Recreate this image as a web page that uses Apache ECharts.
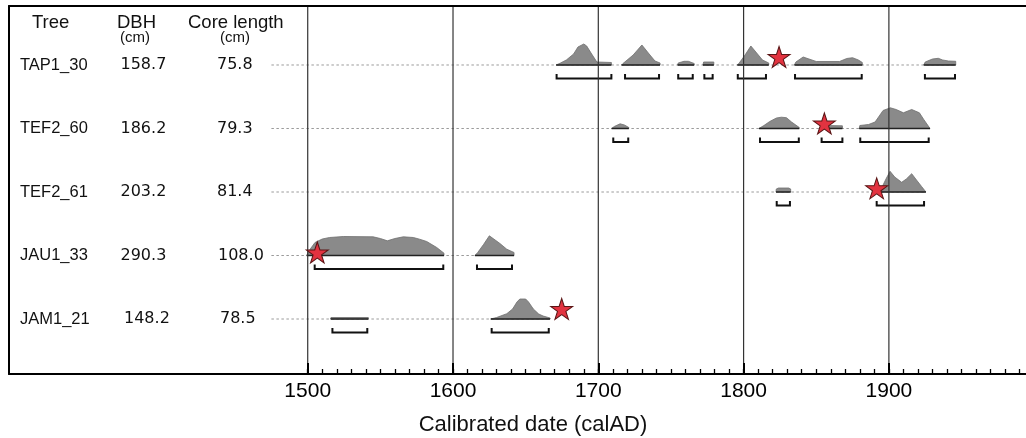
<!DOCTYPE html>
<html><head><meta charset="utf-8">
<script src="https://cdn.jsdelivr.net/npm/echarts@6/dist/echarts.min.js"></script>
<style>html,body{margin:0;padding:0;background:#fff;overflow:hidden}#c{width:1032px;height:438px}</style>
</head><body><div id="c"></div>
<script>
// ---------- data ----------
const trees = ['TAP1_30', 'TEF2_60', 'TEF2_61', 'JAU1_33', 'JAM1_21'];
const dbh = ['158.7', '186.2', '203.2', '290.3', '148.2'];
const coreLength = ['75.8', '79.3', '81.4', '108.0', '78.5'];
const rows = [5, 4, 3, 2, 1];
const yearTicks = [1500, 1600, 1700, 1800, 1900];
const minorTicks = [1500,1510,1520,1530,1540,1550,1560,1570,1580,1590,
  1600,1610,1620,1630,1640,1650,1660,1670,1680,1690,
  1700,1710,1720,1730,1740,1750,1760,1770,1780,1790,
  1800,1810,1820,1830,1840,1850,1860,1870,1880,1890,
  1900,1910,1920,1930,1940,1950,1960,1970,1980,1990];

// calibrated probability densities: [year, relative density]
const densTAP1_30 = [
  [[1671,0],[1674,2],[1678,5],[1683,11],[1686,18],[1690,21],[1692,19],[1695,12],[1699,3],[1709,2.5],[1709,0]],
  [[1716,0],[1717,1.5],[1724,10],[1730,20],[1735,11],[1739,4],[1742.5,2],[1742.5,0]],
  [[1754.6,0],[1755,2],[1759,3.7],[1762,3.7],[1766,1.5],[1766,0]],
  [[1772,0],[1772.5,3],[1779.5,3],[1779.5,0]],
  [[1795.7,0],[1797,2],[1801,10],[1805,19],[1809,12],[1813,5],[1817.3,2],[1817.3,0]],
  [[1835,0],[1836,3],[1841,8],[1845,6],[1850,3.5],[1866,3.5],[1871,6.5],[1875,7.3],[1879,5],[1881.7,2.5],[1881.7,0]],
  [[1924,0],[1925,3],[1930,6],[1934,6.7],[1937,5],[1941,4],[1946,3.7],[1946,0]]
];
const densTEF2_60 = [
  [[1709.2,0],[1711,2],[1715,4.7],[1718,3.5],[1721,1],[1721,0]],
  [[1810.6,0],[1814,3],[1818,7],[1822.6,10.5],[1826,11.3],[1829.5,10.8],[1833,6.5],[1838.3,1],[1838.3,0]],
  [[1854,0],[1854,3],[1868,2.7],[1868,0]],
  [[1879.6,0],[1880,3],[1886,4],[1890.5,6.5],[1896,18],[1901,20.7],[1905,19],[1910,15.7],[1915.7,19],[1921,15.7],[1924,9],[1928.3,0]]
];
const densTEF2_61 = [
  [[1822.3,0],[1822.5,3],[1824,4],[1831,4],[1832.4,3],[1832.4,0]],
  [[1893,0],[1895,4],[1898,13],[1900.8,20.7],[1904,15],[1908.8,9.7],[1912,13],[1915.7,18.3],[1919,12],[1922.5,5.5],[1925.5,0]]
];
const densJAU1_33 = [
  [[1499.3,0],[1501,5],[1505,13],[1510,16.5],[1515,18],[1524.5,19],[1545,18.7],[1550,17],[1554.8,14.7],[1560,17],[1565.8,18.7],[1572.7,18],[1577,16.3],[1581.9,14],[1588.8,8],[1593.8,2.3],[1593.8,0]],
  [[1615.1,0],[1617,3],[1621,11],[1625,19.7],[1629,15.5],[1632.3,12],[1637,6.3],[1642,3],[1642,0]]
];
const densJAM1_21 = [
  [[1515.8,0],[1516,1.5],[1541.7,1.5],[1541.7,0]],
  [[1626,0],[1630,1.5],[1637,5.3],[1641,10],[1644,17],[1646,20],[1650,20],[1652,17],[1655.3,10],[1659,5],[1662,3],[1666.8,1],[1666.8,0]]
];
const densities = [densTAP1_30, densTEF2_60, densTEF2_61, densJAU1_33, densJAM1_21];

// 95% ranges (brackets): [start, end]
const rangesTAP1_30 = [[1671.3,1709],[1718.4,1741.8],[1755,1765],[1773,1778.7],[1796,1815.4],[1835.4,1881.3],[1924.8,1945.5]];
const rangesTEF2_60 = [[1710.3,1720.6],[1811.3,1838],[1853.7,1868],[1880.3,1927.4]];
const rangesTEF2_61 = [[1822.8,1831.9],[1891.6,1924.2]];
const rangesJAU1_33 = [[1504.8,1593.3],[1616.5,1640.6]];
const rangesJAM1_21 = [[1517,1541],[1626.6,1665.9]];
const ranges = [rangesTAP1_30, rangesTEF2_60, rangesTEF2_61, rangesJAU1_33, rangesJAM1_21];

// star markers (pith date estimate): year, lift above baseline (density units)
const starYears = [1824.4, 1855.6, 1891.6, 1506.6, 1674.8];
const starLift = [8, 5, 3.7, 3, 10];

// dotted guide lines
const guideStart = 1475;
const guideEnd = [1946, 1929, 1925.5, 1642, 1667];

// ---------- build ----------
const DENS_TO_ROW = 1 / 63.5;
const densitySegments = [];
densities.forEach((segs, r) => segs.forEach(pts => densitySegments.push({ row: rows[r], pts })));
const densityData = densitySegments.map((s, i) => [s.pts[0][0], s.row, i]);
const bracketData = [];
ranges.forEach((rs, r) => rs.forEach(x => bracketData.push([x[0], x[1], rows[r]])));
const guideData = guideEnd.map((e, r) => [guideStart, e, rows[r]]);
const starData = starYears.map((y, r) => [y, rows[r] + starLift[r] * DENS_TO_ROW]);
const vlineData = yearTicks.map(y => [y]);

const STAR = 'path://M50,0 L61.2,34.5 L97.6,34.5 L68.2,55.9 L79.4,90.5 L50,69.1 L20.6,90.5 L31.8,55.9 L2.4,34.5 L38.8,34.5 Z';
const XMIN = 1294.4, XMAX = 1998.5;
const YMIN = 0.134, YMAX = 5.929;

const chart = echarts.init(document.getElementById('c'));
chart.setOption({
  animation: false,
  backgroundColor: '#fff',
  grid: { left: 9, right: 0, top: 6, bottom: 64, show: false },
  xAxis: [
    {
      type: 'value', min: XMIN, max: XMAX, position: 'bottom', z: 5,
      axisLine: { show: true, lineStyle: { color: '#000', width: 2 } },
      axisTick: { show: true, inside: true, length: 11, customValues: yearTicks, lineStyle: { color: '#000', width: 2 } },
      axisLabel: { customValues: yearTicks, fontSize: 21, color: '#000', margin: 7, fontFamily: 'Liberation Sans, Arial, sans-serif',
        formatter: v => String(v) },
      splitLine: { show: false }
    },
    {
      type: 'value', min: XMIN, max: XMAX, position: 'bottom', z: 5,
      axisLine: { show: false },
      axisTick: { show: true, inside: true, length: 5, customValues: minorTicks, lineStyle: { color: '#000', width: 1.3 } },
      axisLabel: { show: false },
      splitLine: { show: false }
    },
    {
      type: 'value', min: XMIN, max: XMAX, position: 'top', z: 5,
      axisLine: { show: true, lineStyle: { color: '#000', width: 2 } },
      axisTick: { show: false }, axisLabel: { show: false }, splitLine: { show: false }
    }
  ],
  yAxis: {
    type: 'value', min: YMIN, max: YMAX, position: 'left', z: 5,
    axisLine: { show: true, onZero: false, lineStyle: { color: '#000', width: 2 } },
    axisTick: { show: false }, axisLabel: { show: false }, splitLine: { show: false }
  },
  series: [
    {
      type: 'custom', name: 'guides', z: 1, data: guideData, encode: { x: [0, 1], y: 2 },
      renderItem: (params, api) => {
        const a = api.coord([api.value(0), api.value(2)]);
        const b = api.coord([api.value(1), api.value(2)]);
        return { type: 'line', shape: { x1: a[0], y1: a[1], x2: b[0], y2: b[1] },
          style: { stroke: '#9a9a9a', lineWidth: 1, lineDash: [2.5, 2.5] } };
      }
    },
    {
      type: 'custom', name: 'density', z: 2, data: densityData, encode: { x: 0, y: 1 },
      renderItem: (params, api) => {
        const seg = densitySegments[api.value(2)];
        const pts = seg.pts.map(p => api.coord([p[0], seg.row + p[1] * DENS_TO_ROW]));
        const b0 = api.coord([seg.pts[0][0], seg.row]);
        const b1 = api.coord([seg.pts[seg.pts.length - 1][0], seg.row]);
        return { type: 'group', children: [
          { type: 'polygon', shape: { points: pts }, style: { fill: '#8a8a8a', stroke: '#6e6e6e', lineWidth: 0.8 } },
          { type: 'line', shape: { x1: b0[0], y1: b0[1], x2: b1[0], y2: b1[1] }, style: { stroke: '#222', lineWidth: 1.5 } }
        ] };
      }
    },
    {
      type: 'custom', name: 'decadeLines', z: 4, data: vlineData, encode: { x: 0 },
      renderItem: (params, api) => {
        const a = api.coord([api.value(0), YMAX]);
        const b = api.coord([api.value(0), YMIN]);
        return { type: 'line', shape: { x1: a[0], y1: a[1], x2: b[0], y2: b[1] },
          style: { stroke: '#333', lineWidth: 1.2 } };
      }
    },
    {
      type: 'custom', name: 'range', z: 3, data: bracketData, encode: { x: [0, 1], y: 2 },
      renderItem: (params, api) => {
        const a = api.coord([api.value(0), api.value(2)]);
        const b = api.coord([api.value(1), api.value(2)]);
        const y = a[1] + 13.5;
        return { type: 'polyline', shape: { points: [[a[0], y - 4.5], [a[0], y], [b[0], y], [b[0], y - 4.5]] },
          style: { stroke: '#111', lineWidth: 2, fill: null } };
      }
    },
    {
      type: 'scatter', name: 'pith', z: 10, data: starData, symbol: STAR, symbolSize: [22, 21],
      itemStyle: { color: '#e23340', borderColor: '#5a1515', borderWidth: 1, opacity: 1 }
    }
  ]
});

// table text & axis title
const font = 'Liberation Sans, Arial, sans-serif';
const numFont = 'DejaVu Sans, sans-serif';
const g = [
  { type: 'text', left: 32, top: 13, style: { text: 'Tree', fontSize: 18.5, fontFamily: font, fill: '#111' } },
  { type: 'text', left: 117, top: 13, style: { text: 'DBH', fontSize: 18.5, fontFamily: font, fill: '#111' } },
  { type: 'text', left: 120, top: 30, style: { text: '(cm)', fontSize: 15, fontFamily: font, fill: '#111' } },
  { type: 'text', left: 188, top: 13, style: { text: 'Core length', fontSize: 18.5, fontFamily: font, fill: '#111' } },
  { type: 'text', left: 220, top: 30, style: { text: '(cm)', fontSize: 15, fontFamily: font, fill: '#111' } }
];
const dbhX = [120.5, 120.5, 120.5, 120.5, 124];
const coreX = [217, 217, 217, 218, 220];
trees.forEach((t, r) => {
  const y = chart.convertToPixel({ gridIndex: 0 }, [1500, rows[r]])[1];
  g.push({ type: 'text', x: 20, y: y, style: { text: t, fontSize: 16.5, fontFamily: font, fill: '#111', textVerticalAlign: 'middle', verticalAlign: 'middle' } });
  g.push({ type: 'text', x: dbhX[r], y: y, style: { text: dbh[r], fontSize: 16, fontFamily: numFont, fill: '#111', textVerticalAlign: 'middle', verticalAlign: 'middle' } });
  g.push({ type: 'text', x: coreX[r], y: y, style: { text: coreLength[r], fontSize: 16, fontFamily: numFont, fill: '#111', textVerticalAlign: 'middle', verticalAlign: 'middle' } });
});
g.push({ type: 'text', x: 533, y: 425, style: { text: 'Calibrated date (calAD)', fontSize: 22, fontFamily: font, fill: '#111', align: 'center', textAlign: 'center', verticalAlign: 'middle', textVerticalAlign: 'middle' } });
// white mask over the clipped right edge of the frame
g.push({ type: 'rect', z: 100, shape: { x: 1021, y: 8, width: 11, height: 364 }, style: { fill: '#fff' } });
chart.setOption({ graphic: g });
</script></body></html>
